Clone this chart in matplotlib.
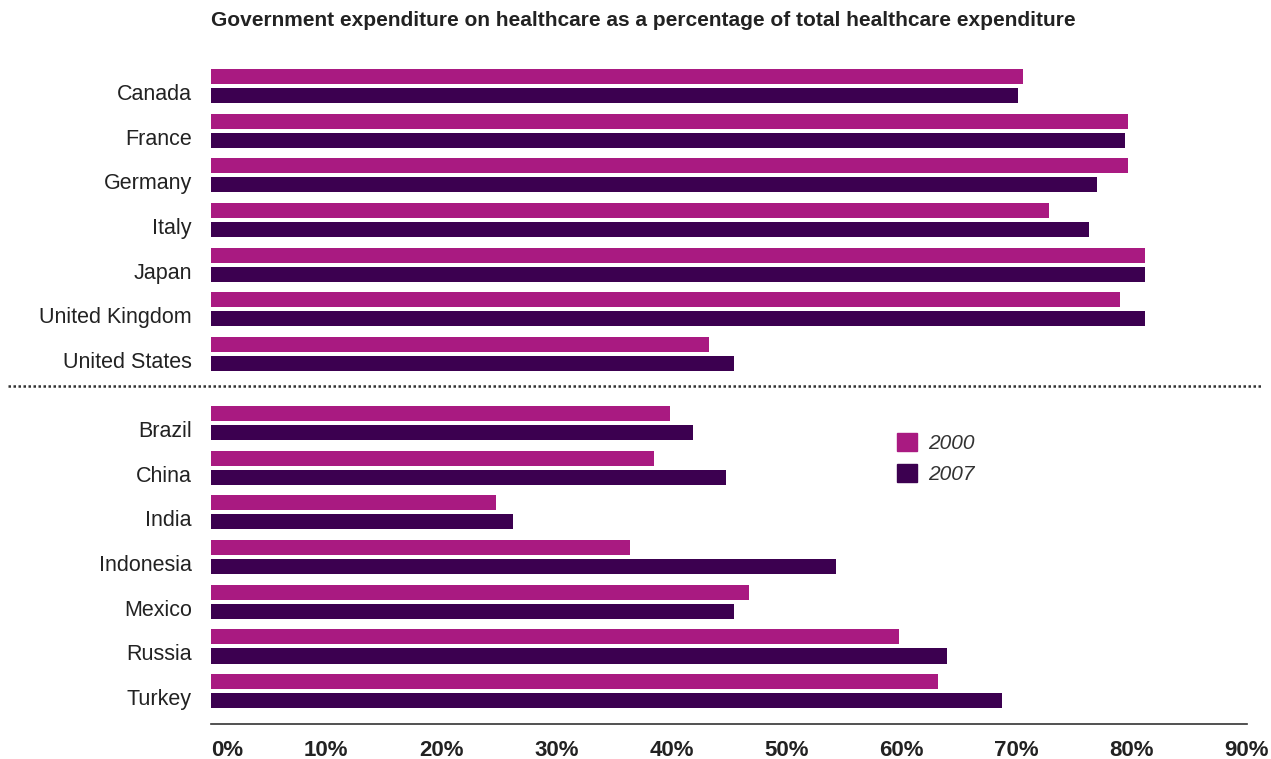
import matplotlib.pyplot as plt
import matplotlib.transforms as mtransforms
from matplotlib.lines import Line2D
from matplotlib.patches import Patch
import numpy as np

plt.rcParams["font.family"] = ["Liberation Sans", "DejaVu Sans"]

# %%
# Data (percent of total healthcare expenditure)

developed = ["Canada", "France", "Germany", "Italy", "Japan", "United Kingdom",
             "United States"]
emerging = ["Brazil", "China", "India", "Indonesia", "Mexico", "Russia", "Turkey"]
dev_2000 = [70.5, 79.7, 79.7, 72.8, 81.1, 79.0, 43.3]
dev_2007 = [70.1, 79.4, 77.0, 76.3, 81.1, 81.1, 45.4]
emg_2000 = [39.9, 38.5, 24.8, 36.4, 46.7, 59.8, 63.2]
emg_2007 = [41.9, 44.7, 26.2, 54.3, 45.4, 63.9, 68.7]
years = ["2000", "2007"]
xticks = [0, 10, 20, 30, 40, 50, 60, 70, 80, 90]

c_2000 = "#A91A81"
c_2007 = "#3C0050"
txt = "#222222"

# %%
# Layout: two blocks with an extra gap between them

gap = 0.545
pos = np.r_[np.arange(len(developed)), np.arange(len(emerging)) + len(developed) + gap]
labels = developed + emerging
v_2000 = np.array(dev_2000 + emg_2000)
v_2007 = np.array(dev_2007 + emg_2007)

fig = plt.figure(figsize=(12.71, 7.59), dpi=100)
ax = fig.add_axes([0.16601, 0.04611, 0.81510, 0.88142])

h = 0.336
off = 0.213
ax.barh(pos - off, v_2000, height=h, color=c_2000, label=years[0])
ax.barh(pos + off, v_2007, height=h, color=c_2007, label=years[1])

ax.set_xlim(0, 90)
ax.set_ylim(14.28, -0.694)

ax.set_yticks(pos, labels)
ax.tick_params(axis="y", length=0, pad=13.7, labelsize=15.5, labelcolor=txt)
shift = mtransforms.ScaledTranslation(0, -6 / 100, fig.dpi_scale_trans)
for lbl in ax.get_yticklabels():
    lbl.set_transform(lbl.get_transform() + shift)

ax.set_xticks(xticks, [f"{v}%" for v in xticks])
ax.tick_params(axis="x", length=0, pad=11.5, labelsize=16)
for lbl in ax.get_xticklabels():
    lbl.set_fontweight("bold")
    lbl.set_color(txt)
xl = ax.get_xticklabels()
xl[0].set_horizontalalignment("left")

for s in ["top", "right", "left"]:
    ax.spines[s].set_visible(False)
ax.spines["bottom"].set_color("#333333")
ax.spines["bottom"].set_linewidth(1.2)

# Dotted separator between the two country groups
sep_y = len(developed) - 0.5 + gap / 2 - 0.067
trans = mtransforms.blended_transform_factory(fig.transFigure, ax.transData)
fig.add_artist(Line2D([8 / 1271, 1262 / 1271], [sep_y, sep_y], transform=trans,
                      color="#333333", lw=1.8, linestyle=(0, (1, 1))))

handles = [Patch(color=c_2000), Patch(color=c_2007)]
leg = fig.legend(handles, years, loc="upper left",
                 bbox_to_anchor=(897 / 1271, 1 - 433 / 759), frameon=False,
                 borderpad=0, borderaxespad=0, handlelength=0.96, handleheight=0.96,
                 handletextpad=0.53, labelspacing=0.5,
                 prop={"size": 15, "style": "italic"})
for t in leg.get_texts():
    t.set_color("#333333")

fig.text(211 / 1271, 1 - 20 / 759,
         "Government expenditure on healthcare as a percentage of total healthcare "
         "expenditure", fontsize=15, fontweight="bold", color=txt, va="center")

fig.savefig("out.png", dpi=100)
